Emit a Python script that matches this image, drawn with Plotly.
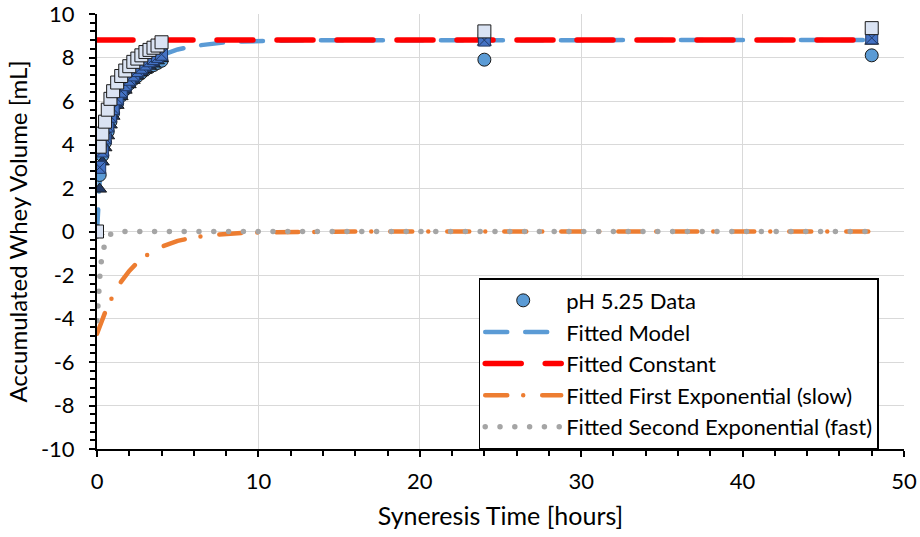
import plotly.graph_objects as go

# ---------------- data ----------------
t_data = [0, 0.167, 0.333, 0.5, 0.667, 0.833, 1.0, 1.25, 1.5, 1.75, 2.0, 2.25, 2.5,
          2.75, 3.0, 3.25, 3.5, 3.75, 4.0, 24, 48]
y_circle = [0, 2.6, 3.5, 4.1, 4.6, 5.05, 5.45, 5.9, 6.25, 6.55, 6.8, 7.0, 7.15,
            7.3, 7.45, 7.55, 7.65, 7.75, 7.85, 7.9, 8.1]
y_triangle = [0, 1.95, 3.2, 3.85, 4.4, 4.9, 5.3, 5.8, 6.2, 6.5, 6.75, 6.95, 7.15,
              7.3, 7.45, 7.6, 7.7, 7.85, 7.95, 8.7, 8.75]
y_squarex = [0, 2.95, 3.7, 4.3, 4.85, 5.3, 5.65, 6.1, 6.45, 6.75, 7.0, 7.2, 7.4,
             7.55, 7.7, 7.85, 7.95, 8.05, 8.15, 8.8, 8.9]
y_square = [0, 3.9, 4.5, 5.05, 5.6, 6.1, 6.45, 6.85, 7.15, 7.4, 7.6, 7.8, 7.95,
            8.1, 8.25, 8.35, 8.45, 8.55, 8.7, 9.2, 9.35]

t_fit = [0, 0.05, 0.1, 0.15, 0.2, 0.3, 0.4, 0.5, 0.6, 0.8, 1.0, 1.25, 1.5, 2, 2.5,
         3, 3.5, 4, 5, 6, 7, 8, 9, 10, 12, 14, 16, 20, 24, 30, 36, 42, 48]
y_model = [0.00, 0.88, 1.62, 2.23, 2.75, 3.56, 4.15, 4.59, 4.93, 5.44, 5.82, 6.19,
           6.49, 6.99, 7.37, 7.67, 7.91, 8.10, 8.37, 8.53, 8.63, 8.70, 8.735, 8.76,
           8.785, 8.794, 8.798, 8.80, 8.80, 8.80, 8.80, 8.80, 8.80]
y_const = [8.8] * len(t_fit)
y_slow = [-4.70, -4.59, -4.48, -4.38, -4.27, -4.07, -3.88, -3.70, -3.53, -3.21,
          -2.92, -2.59, -2.30, -1.81, -1.43, -1.13, -0.89, -0.70, -0.43, -0.27,
          -0.17, -0.10, -0.065, -0.04, -0.015, -0.006, -0.002, 0, 0, 0, 0, 0, 0]
y_fast = [-4.10, -3.33, -2.70, -2.19, -1.78, -1.17, -0.77, -0.51, -0.34, -0.15,
          -0.064, -0.022, -0.008, -0.001, 0, 0, 0, 0, 0, 0, 0, 0, 0, 0, 0, 0, 0,
          0, 0, 0, 0, 0, 0]

x_ticks = [0, 10, 20, 30, 40, 50]
y_ticks = [-10, -8, -6, -4, -2, 0, 2, 4, 6, 8, 10]

FONT = "Lato"
EDGE = "#1a1a1a"

fig = go.Figure()

# fitted lines (drawn beneath markers)
fig.add_trace(go.Scatter(x=t_fit, y=y_model, mode="lines", name="Fitted Model",
                         line=dict(color="#5B9BD5", width=4.5, dash="22px,18px"),
                         legendgroup="b", legendrank=2))
fig.add_trace(go.Scatter(x=t_fit, y=y_const, mode="lines", name="Fitted Constant",
                         line=dict(color="#FF0000", width=5.5, dash="36px,24px"),
                         legendgroup="c", legendrank=3))
fig.add_trace(go.Scatter(x=t_fit, y=y_slow, mode="lines",
                         name="Fitted First Exponential (slow)",
                         line=dict(color="#ED7D31", width=4.5, dash="22px,16px,0px,19px"),
                         legendgroup="d", legendrank=4))
fig.add_trace(go.Scatter(x=t_fit, y=y_fast, mode="lines",
                         name="Fitted Second Exponential (fast)",
                         line=dict(color="#A5A5A5", width=5.5, dash="0px,14.8px"),
                         legendgroup="e", legendrank=5))

# data markers
fig.add_trace(go.Scatter(x=t_data, y=y_circle, mode="markers", name="pH 5.25 Data",
                         marker=dict(symbol="circle", size=13, color="#5B9BD5",
                                     line=dict(color=EDGE, width=1)),
                         legendgroup="a", legendrank=1))
fig.add_trace(go.Scatter(x=t_data, y=y_triangle, mode="markers", showlegend=False,
                         marker=dict(symbol="triangle-up", size=12, color="#203864",
                                     line=dict(color=EDGE, width=1))))
fig.add_trace(go.Scatter(x=t_data, y=y_squarex, mode="markers", showlegend=False,
                         marker=dict(symbol="square-x", size=12, color="#4472C4",
                                     line=dict(color="#203864", width=1))))
fig.add_trace(go.Scatter(x=t_data, y=y_square, mode="markers", showlegend=False,
                         marker=dict(symbol="square", size=13, color="#DAE3F3",
                                     line=dict(color=EDGE, width=1))))

axis_common = dict(
    showline=True, linecolor="black", linewidth=2, mirror=False, automargin=False,
    showgrid=True, gridcolor="#D9D9D9", gridwidth=1.3, zeroline=False,
    ticks="outside", ticklen=6, tickwidth=1.5, tickcolor="black",
    tickfont=dict(family=FONT, size=22, color="black"), ticklabeloverflow="allow",
)

fig.update_xaxes(range=[0, 50], tickvals=x_ticks, ticktext=[str(v) for v in x_ticks],
                 title=dict(text="Syneresis Time [hours]",
                            font=dict(family=FONT, size=25, color="black"), standoff=14),
                 minor=dict(dtick=2, ticks="outside", ticklen=5, tickwidth=1.5,
                            tickcolor="black", showgrid=False),
                 ticklabelstandoff=6, **axis_common)
fig.update_yaxes(range=[-10, 10], tickvals=y_ticks, ticktext=[str(v) for v in y_ticks],
                 title=dict(text="Accumulated Whey Volume [mL]",
                            font=dict(family=FONT, size=24, color="black"), standoff=6),
                 minor=dict(dtick=0.4, ticks="outside", ticklen=5, tickwidth=1.5,
                            tickcolor="black", showgrid=False),
                 ticklabelstandoff=10, **axis_common)

fig.update_layout(
    width=920, height=537,
    margin=dict(l=97, r=16, t=14, b=88),
    paper_bgcolor="white", plot_bgcolor="white",
    font=dict(family=FONT, size=22, color="black"),
    showlegend=True,
    legend=dict(x=0.473, y=0.393, xanchor="left", yanchor="top",
                bgcolor="white", bordercolor="black", borderwidth=1.5,
                font=dict(family=FONT, size=22, color="black"),
                traceorder="grouped", tracegroupgap=0, itemwidth=76),
)

post = ("document.querySelectorAll('.js-line').forEach(function(p){"
        "p.style.strokeLinecap='round';});")
fig.write_html("out.html", post_script=post)
